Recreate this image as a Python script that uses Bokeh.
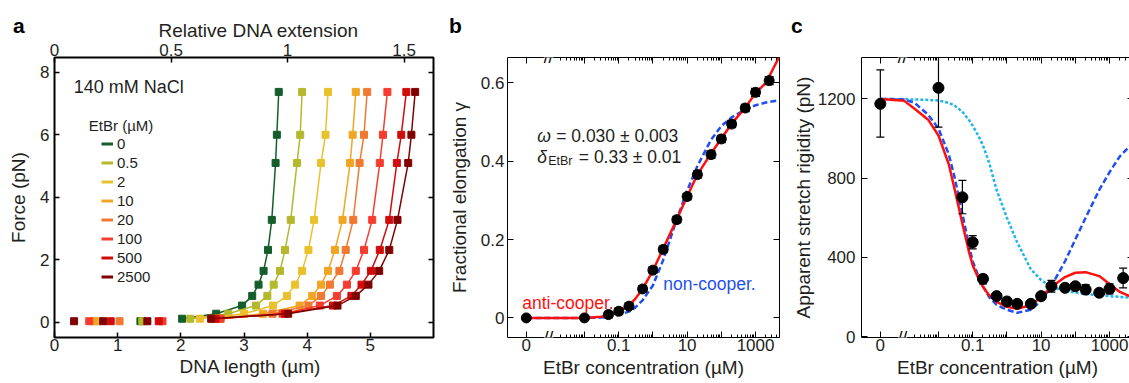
import numpy as np
from bokeh.plotting import figure
from bokeh.models import (Range1d, LinearAxis, FixedTicker, Label, Legend, LegendItem,
                          Title, Div, GridBox)
from bokeh.embed import file_html
from bokeh.resources import INLINE

FONT = "Liberation Sans"
TXT = "#231f20"

# ---------------- panel a data ----------------
force_pn = [0.12, 0.28, 0.54, 0.85, 1.21, 1.65, 2.32, 3.28, 5.10, 6.00, 7.37]
etbr_um = ["0", "0.5", "2", "10", "20", "100", "500", "2500"]
len_0 = [2.02, 2.56, 2.97, 3.13, 3.23, 3.31, 3.38, 3.44, 3.50, 3.52, 3.55]
len_05 = [2.15, 2.75, 3.19, 3.37, 3.47, 3.57, 3.65, 3.74, 3.84, 3.89, 3.92]
len_2 = [2.30, 3.00, 3.46, 3.68, 3.81, 3.92, 4.02, 4.11, 4.22, 4.29, 4.33]
len_10 = [2.50, 3.30, 3.88, 4.08, 4.22, 4.33, 4.44, 4.56, 4.68, 4.72, 4.77]
len_20 = [2.60, 3.45, 4.02, 4.22, 4.36, 4.51, 4.61, 4.73, 4.83, 4.90, 4.95]
len_100 = [2.63, 3.61, 4.20, 4.47, 4.63, 4.77, 4.90, 5.03, 5.15, 5.20, 5.27]
len_500 = [2.55, 3.65, 4.41, 4.70, 4.86, 5.01, 5.15, 5.30, 5.42, 5.49, 5.57]
len_2500 = [2.48, 3.70, 4.48, 4.77, 4.97, 5.14, 5.30, 5.43, 5.60, 5.65, 5.71]
lengths = [len_0, len_05, len_2, len_10, len_20, len_100, len_500, len_2500]
low_force_pn = 0.04
low_len = [[1.36], [1.39], [0.67], [0.63], [1.03], [0.55, 1.71], [0.89, 1.65], [0.31, 0.77, 1.47]]
um_per_rel = 3.69
colors_a = ["#155d2b", "#b4b82c", "#e9c12c", "#f0a623", "#f07830", "#f53c2f", "#d10b0b", "#800000"]

# ---------------- panel b data ----------------
conc_b = [0, 0.01, 0.05, 0.1, 0.2, 0.5, 1, 2, 5, 10, 20, 50, 100, 200, 500, 1000, 2500]
gamma_b = [0.0, 0.0, 0.0085, 0.017, 0.030, 0.074, 0.122, 0.175, 0.251, 0.310, 0.366,
           0.417, 0.457, 0.495, 0.536, 0.576, 0.606]
gamma_err = [0.0, 0.006, 0.008, 0.008, 0.008, 0.008, 0.008, 0.008, 0.008, 0.008, 0.009,
             0.009, 0.009, 0.009, 0.009, 0.010, 0.010]
conc_fit_b = [0, 0.001, 0.01, 0.03, 0.05, 0.1, 0.2, 0.3, 0.5, 1, 2, 5, 10, 20, 50,
              100, 200, 500, 1000, 2000, 5000]
anti_b = [0, 0, 0, 0.003, 0.007, 0.017, 0.032, 0.048, 0.074, 0.121, 0.177, 0.252, 0.310,
          0.366, 0.420, 0.458, 0.496, 0.537, 0.574, 0.600, 0.668]
non_b = [0, 0, 0, 0.001, 0.003, 0.008, 0.016, 0.026, 0.045, 0.083, 0.148, 0.252, 0.325,
         0.388, 0.455, 0.490, 0.512, 0.532, 0.543, 0.550, 0.556]

# ---------------- panel c data ----------------
conc_c = [0, 0.01, 0.05, 0.1, 0.2, 0.5, 1, 2, 5, 10, 20, 50, 100, 200, 500, 1000, 2500]
rig_c = [1175, 1256, 703, 476, 291, 204, 177, 165, 165, 204, 254, 246, 254, 237, 221, 241, 295]
rig_lo = [1007, 1057, 620, 443, 266, 194, 167, 155, 155, 192, 224, 234, 242, 215, 209, 215, 246]
rig_hi = [1347, 1460, 788, 509, 313, 214, 187, 175, 175, 216, 283, 258, 266, 262, 233, 266, 345]
conc_fit_c = [0, 0.001, 0.002, 0.005, 0.01, 0.02, 0.03, 0.05, 0.08, 0.1, 0.15, 0.2, 0.3,
              0.5, 1, 2, 5, 10, 20, 50, 100, 200, 500, 1000, 2000, 5000]
anti_c = [1200, 1190, 1150, 1095, 1015, 870, 740, 570, 420, 360, 290, 250, 210, 175, 150,
          140, 158, 200, 250, 300, 322, 325, 305, 265, 225, 195]
non_c = [1200, 1197, 1180, 1120, 1050, 920, 800, 620, 450, 380, 300, 255, 200, 160, 135,
         120, 135, 180, 255, 380, 490, 600, 740, 830, 910, 980]
third_c = [1200, 1198, 1197, 1195, 1192, 1180, 1165, 1135, 1090, 1065, 1010, 965, 880, 740,
           600, 475, 340, 285, 250, 232, 222, 215, 208, 204, 200, 195]

RED = "#ff1010"
BLUE = "#1f4ff0"
CYAN = "#22b5e8"

ZERO_U = -3.7
BREAK_U = -3.05


def xpos(c):
    c = np.asarray(c, dtype=float)
    return np.where(c > 0, np.log10(np.where(c > 0, c, 1.0)), ZERO_U)


# data ranges
XR_A, YR_A = (0.0, 6.0), (-0.48, 8.47)
XR_B, YR_B = (-4.25, 3.70), (-0.050, 0.665)
XR_C, YR_C = (-4.25, 3.70), (-5.0, 1409.0)
# frame geometry (screen px) used to place texts
RA = dict(l=54, t=57, w=379, h=280, xr=XR_A, yr=YR_A)
RB = dict(l=502, t=57, w=272, h=280, xr=XR_B, yr=YR_B)
RC = dict(l=856, t=57, w=272, h=280, xr=XR_C, yr=YR_C)


def to_data(F, px, py):
    x = F["xr"][0] + (px - F["l"]) / F["w"] * (F["xr"][1] - F["xr"][0])
    y = F["yr"][1] - (py - F["t"]) / F["h"] * (F["yr"][1] - F["yr"][0])
    return x, y


def make_fig(F, mbl, mbr, outline_w):
    p = figure(frame_width=F["w"], frame_height=F["h"],
               x_range=Range1d(*F["xr"]), y_range=Range1d(*F["yr"]),
               output_backend="svg", toolbar_location=None,
               x_axis_type=None, y_axis_type=None,
               min_border_left=mbl, min_border_right=mbr,
               min_border_top=57, min_border_bottom=40)
    p.outline_line_color = "black"
    p.outline_line_width = outline_w
    p.background_fill_color = "white"
    p.border_fill_color = "white"
    return p


def add_axis(p, side, ticks, minor=None, overrides=None, label=None, show_labels=True,
             range_name=None, tick_in=5, minor_in=3, standoff=4, label_standoff=5,
             tick_w=1.0):
    ax = LinearAxis(ticker=FixedTicker(ticks=ticks, minor_ticks=minor or []))
    if range_name:
        ax.x_range_name = range_name
    ax.axis_line_color = None
    ax.major_tick_in = tick_in
    ax.major_tick_out = 0
    ax.minor_tick_in = minor_in
    ax.minor_tick_out = 0
    ax.major_tick_line_color = "black"
    ax.minor_tick_line_color = "black"
    ax.major_tick_line_width = tick_w
    ax.minor_tick_line_width = 1
    ax.major_label_text_font = FONT
    ax.major_label_text_font_size = "17px"
    ax.major_label_text_color = TXT
    ax.major_label_standoff = standoff
    if overrides:
        ax.major_label_overrides = overrides
    if not show_labels:
        ax.major_label_text_font_size = "0px"
        ax.major_label_text_color = None
        ax.major_label_standoff = 0
    if label:
        ax.axis_label = label
        ax.axis_label_text_font = FONT
        ax.axis_label_text_font_size = "19px"
        ax.axis_label_text_font_style = "normal"
        ax.axis_label_text_color = TXT
        ax.axis_label_standoff = label_standoff
    p.add_layout(ax, side)
    return ax


def add_text(p, F, text, px, py, size="17px", color=TXT, style="normal",
             align="left", baseline="alphabetic"):
    x, y = to_data(F, px, py)
    lab = Label(x=x, y=y, text=text, text_font=FONT, text_font_size=size,
                text_color=color, text_font_style=style, text_align=align,
                text_baseline=baseline)
    p.add_layout(lab)
    return lab


def side_title(p, side, text, offset, standoff, valign):
    t = Title(text=text, align="left", offset=offset, standoff=standoff,
              vertical_align=valign, text_font=FONT, text_font_size="19px",
              text_font_style="normal", text_color=TXT)
    p.add_layout(t, side)
    return t


def panel_letter(letter, left, top):
    return Div(text=letter, margin=(top, 0, 0, left), align="start",
               styles={"font-family": FONT, "font-size": "21px", "font-weight": "bold",
                       "line-height": "21px", "color": "black", "z-index": "10"})


def axis_break(p, yr):
    for yy in yr:
        p.add_layout(Label(x=BREAK_U, y=yy, text="//", text_font=FONT, text_font_size="17px",
                           text_align="center", text_baseline="middle", text_color="black",
                           background_fill_color="white"))


# ================= panel a =================
pa = make_fig(RA, 54, 12, 2)
pa.extra_x_ranges = {"rel": Range1d(XR_A[0] / um_per_rel, XR_A[1] / um_per_rel)}
add_axis(pa, "below", [0, 1, 2, 3, 4, 5], tick_w=1.5, standoff=1)
side_title(pa, "below", "DNA length (µm)", 125, 1, "bottom")
add_axis(pa, "left", [0, 2, 4, 6, 8], label="Force (pN)", tick_w=1.5, standoff=5, label_standoff=8)
add_axis(pa, "right", [0, 2, 4, 6, 8], show_labels=False, tick_w=1.5)
add_axis(pa, "above", [0, 0.5, 1, 1.5], overrides={0: "0", 1: "1"},
         range_name="rel", tick_w=1.5, standoff=2)
side_title(pa, "above", "Relative DNA extension", 104, 0, "bottom")

legend_items = []
for lens, col, lab, lows in zip(lengths, colors_a, etbr_um, low_len):
    pa.line(x=lens, y=force_pn, line_color=col, line_width=1.5)
    pa.scatter(x=lens, y=force_pn, marker="square", size=7, fill_color=col, line_color=col)
    pa.scatter(x=lows, y=[low_force_pn] * len(lows), marker="square", size=7,
               fill_color=col, line_color=col)
    key = pa.line(x=np.array([np.nan]), y=np.array([np.nan]), line_color=col, line_width=3)
    legend_items.append(LegendItem(label=lab, renderers=[key]))

leg = Legend(items=legend_items, location=(47, 51), orientation="vertical",
             label_text_font=FONT, label_text_font_size="15px", label_text_color=TXT,
             glyph_width=12, glyph_height=19, label_height=19, label_standoff=4,
             spacing=0, padding=0, margin=0, border_line_alpha=0, background_fill_alpha=0)
pa.add_layout(leg)
add_text(pa, RA, "140 mM NaCl", 73.3, 86, size="18px")
add_text(pa, RA, "EtBr (µM)", 88.3, 125, size="15px")

# ================= panel b / c shared axis ticks =================
major_u = [ZERO_U, -2, -1, 0, 1, 2, 3]
minor_u = [float(np.log10(k * 10.0 ** n)) for n in range(-3, 4) for k in range(2, 10)
           if np.log10(k * 10.0 ** n) < 3.7]
conc_over = {ZERO_U: "0", -2: "", -1: "0.1", 0: "", 1: "10", 2: "", 3: "1000"}

# ================= panel b =================
pb = make_fig(RB, 57, 8, 1)
add_axis(pb, "below", major_u, minor_u, conc_over, label="EtBr concentration (µM)",
         tick_in=6, standoff=1, label_standoff=3)
add_axis(pb, "above", major_u, minor_u, show_labels=False, tick_in=6)
add_axis(pb, "left", [0, 0.2, 0.4, 0.6], overrides={0: "0"}, label="Fractional elongation γ",
         tick_in=6, standoff=3, label_standoff=8)
add_axis(pb, "right", [0, 0.2, 0.4, 0.6], show_labels=False, tick_in=6)

xb = xpos(conc_b)
gb = np.array(gamma_b)
eb = np.array(gamma_err)
pb.line(x=xpos(conc_fit_b), y=non_b, line_color=BLUE, line_width=2.5, line_dash="6 3")
pb.line(x=xpos(conc_fit_b), y=anti_b, line_color=RED, line_width=2.5)
pb.segment(x0=xb, y0=gb - eb, x1=xb, y1=gb + eb, line_color="black", line_width=1.5)
pb.scatter(x=xb, y=gb - eb, marker="dash", size=9, line_color="black", line_width=1.5)
pb.scatter(x=xb, y=gb + eb, marker="dash", size=9, line_color="black", line_width=1.5)
pb.scatter(x=xb, y=gb, marker="circle", size=10, fill_color="black", line_color="black")

add_text(pb, RB, "ω", 531.7, 135, size="17.5px", style="italic")
add_text(pb, RB, "= 0.030 ± 0.003", 550.7, 135, size="17.5px")
add_text(pb, RB, "δ", 531.7, 156, size="17.5px", style="italic")
add_text(pb, RB, "EtBr", 542.7, 160, size="12.5px")
add_text(pb, RB, "= 0.33 ± 0.01", 573.3, 156, size="17.5px")
add_text(pb, RB, "anti-cooper.", 516.7, 302, size="17.5px", color=RED)
add_text(pb, RB, "non-cooper.", 657.7, 283, size="17.5px", color=BLUE)
axis_break(pb, YR_B)

# ================= panel c =================
pc = make_fig(RC, 74, 1, 1)
add_axis(pc, "below", major_u, minor_u, conc_over, label="EtBr concentration (µM)",
         tick_in=6, standoff=1, label_standoff=3)
add_axis(pc, "above", major_u, minor_u, show_labels=False, tick_in=6)
add_axis(pc, "left", [0, 400, 800, 1200], label="Apparent stretch rigidity (pN)",
         tick_in=6, standoff=6, label_standoff=1)
add_axis(pc, "right", [0, 400, 800, 1200], show_labels=False, tick_in=6)

xc = xpos(conc_c)
xfc = xpos(conc_fit_c)
pc.line(x=xfc, y=third_c, line_color=CYAN, line_width=2.5, line_dash="3 2")
pc.line(x=xfc, y=non_c, line_color=BLUE, line_width=2.5, line_dash="6 3")
pc.line(x=xfc, y=anti_c, line_color=RED, line_width=2.5)
pc.segment(x0=xc, y0=rig_lo, x1=xc, y1=rig_hi, line_color="black", line_width=1.2)
pc.scatter(x=xc, y=rig_lo, marker="dash", size=8, line_color="black", line_width=1.2)
pc.scatter(x=xc, y=rig_hi, marker="dash", size=8, line_color="black", line_width=1.2)
pc.scatter(x=xc, y=rig_c, marker="circle", size=11, fill_color="black", line_color="black")
axis_break(pc, YR_C)

layout = GridBox(children=[(pa, 0, 0), (pb, 0, 1), (pc, 0, 2),
                           (panel_letter("a", 13, 15), 0, 0),
                           (panel_letter("b", 4, 15), 0, 1),
                           (panel_letter("c", 4, 15), 0, 2)])
open("out.html", "w").write(file_html(layout, INLINE))
